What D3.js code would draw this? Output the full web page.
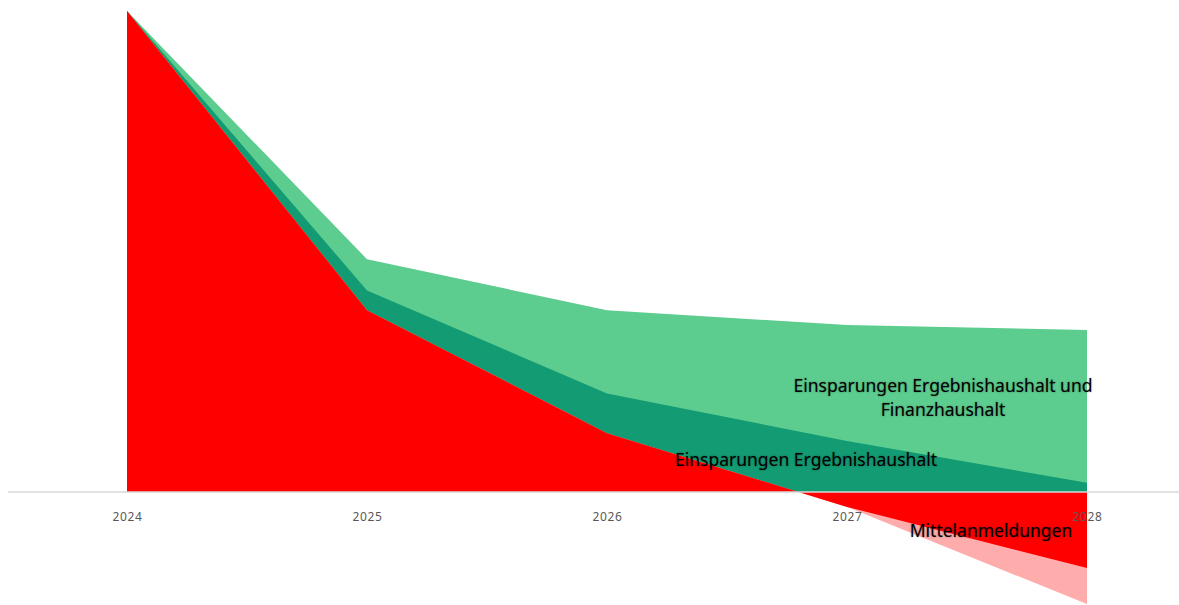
<!DOCTYPE html>
<html>
<head>
<meta charset="utf-8">
<script src="https://cdn.jsdelivr.net/npm/d3@7"></script>
<style>
  html, body { margin: 0; padding: 0; background: #fff; }
  svg { display: block; }
  .label { font-family: "Noto Sans", sans-serif; font-size: 17.5px; fill: #000;
           text-shadow: 0 0 2px rgba(0,0,0,0.4); }
  .tick text { font-family: "Noto Sans", sans-serif; font-size: 12px; fill: #595959; letter-spacing: 0.6px; }
</style>
</head>
<body>
<script>
// values (relative units, 2024 = 100)
var years = [2024, 2025, 2026, 2027, 2028];
var einsparungenGesamt = [100, 48.4, 37.8, 34.7, 33.7];   // Ergebnis- und Finanzhaushalt
var einsparungenErgebnis = [100, 41.9, 20.5, 10.6, 1.9];  // Ergebnishaushalt
var mittelanmeldungen = [100, 37.8, 12.2, -3.1, -15.8];
var mittelanmeldungenHell = [100, 37.8, 12.2, -3.1, -23.3];

var width = 1179,
    height = 605;

var svg = d3.select("body").append("svg")
    .attr("width", width)
    .attr("height", height);

var x = d3.scaleLinear()
    .domain([2024, 2028])
    .range([127, 1087]);

var y = d3.scaleLinear()
    .domain([0, 100])
    .range([492, 11]);

var area = d3.area()
    .x(function(d) { return x(d.year); })
    .y0(y(0))
    .y1(function(d) { return y(d.value); });

function rows(values) {
  return years.map(function(yr, i) { return { year: yr, value: values[i] }; });
}

// back to front
var series = [
  { values: einsparungenGesamt, color: "#5dcd8f" },
  { values: einsparungenErgebnis, color: "#139b73" },
  { values: mittelanmeldungenHell, color: "#ffacac" },
  { values: mittelanmeldungen, color: "#ff0000" }
];

svg.selectAll("path.area")
  .data(series)
  .enter().append("path")
    .attr("class", "area")
    .attr("d", function(d) { return area(rows(d.values)); })
    .attr("fill", function(d) { return d.color; });

// baseline across the whole plot
svg.append("line")
    .attr("x1", 8)
    .attr("x2", width)
    .attr("y1", y(0))
    .attr("y2", y(0))
    .attr("stroke", "#d9d9d9")
    .attr("stroke-width", 1.3);

var xAxis = d3.axisBottom(x)
    .tickValues(years)
    .tickFormat(d3.format("d"))
    .tickSize(0)
    .tickPadding(20);

svg.append("g")
    .attr("transform", "translate(0," + y(0) + ")")
    .call(xAxis)
    .call(function(g) { g.select(".domain").remove(); })
    .selectAll("text").attr("font-family", null).attr("font-size", null);

// series labels
var labelLines = [
  { text: "Einsparungen Ergebnishaushalt und", x: 943, y: 392 },
  { text: "Finanzhaushalt", x: 943, y: 416 },
  { text: "Einsparungen Ergebnishaushalt", x: 806, y: 466 },
  { text: "Mittelanmeldungen", x: 991, y: 537 }
];

svg.selectAll("text.label")
  .data(labelLines)
  .enter().append("text")
    .attr("class", "label")
    .attr("x", function(d) { return d.x; })
    .attr("y", function(d) { return d.y; })
    .attr("text-anchor", "middle")
    .text(function(d) { return d.text; });
</script>
</body>
</html>
